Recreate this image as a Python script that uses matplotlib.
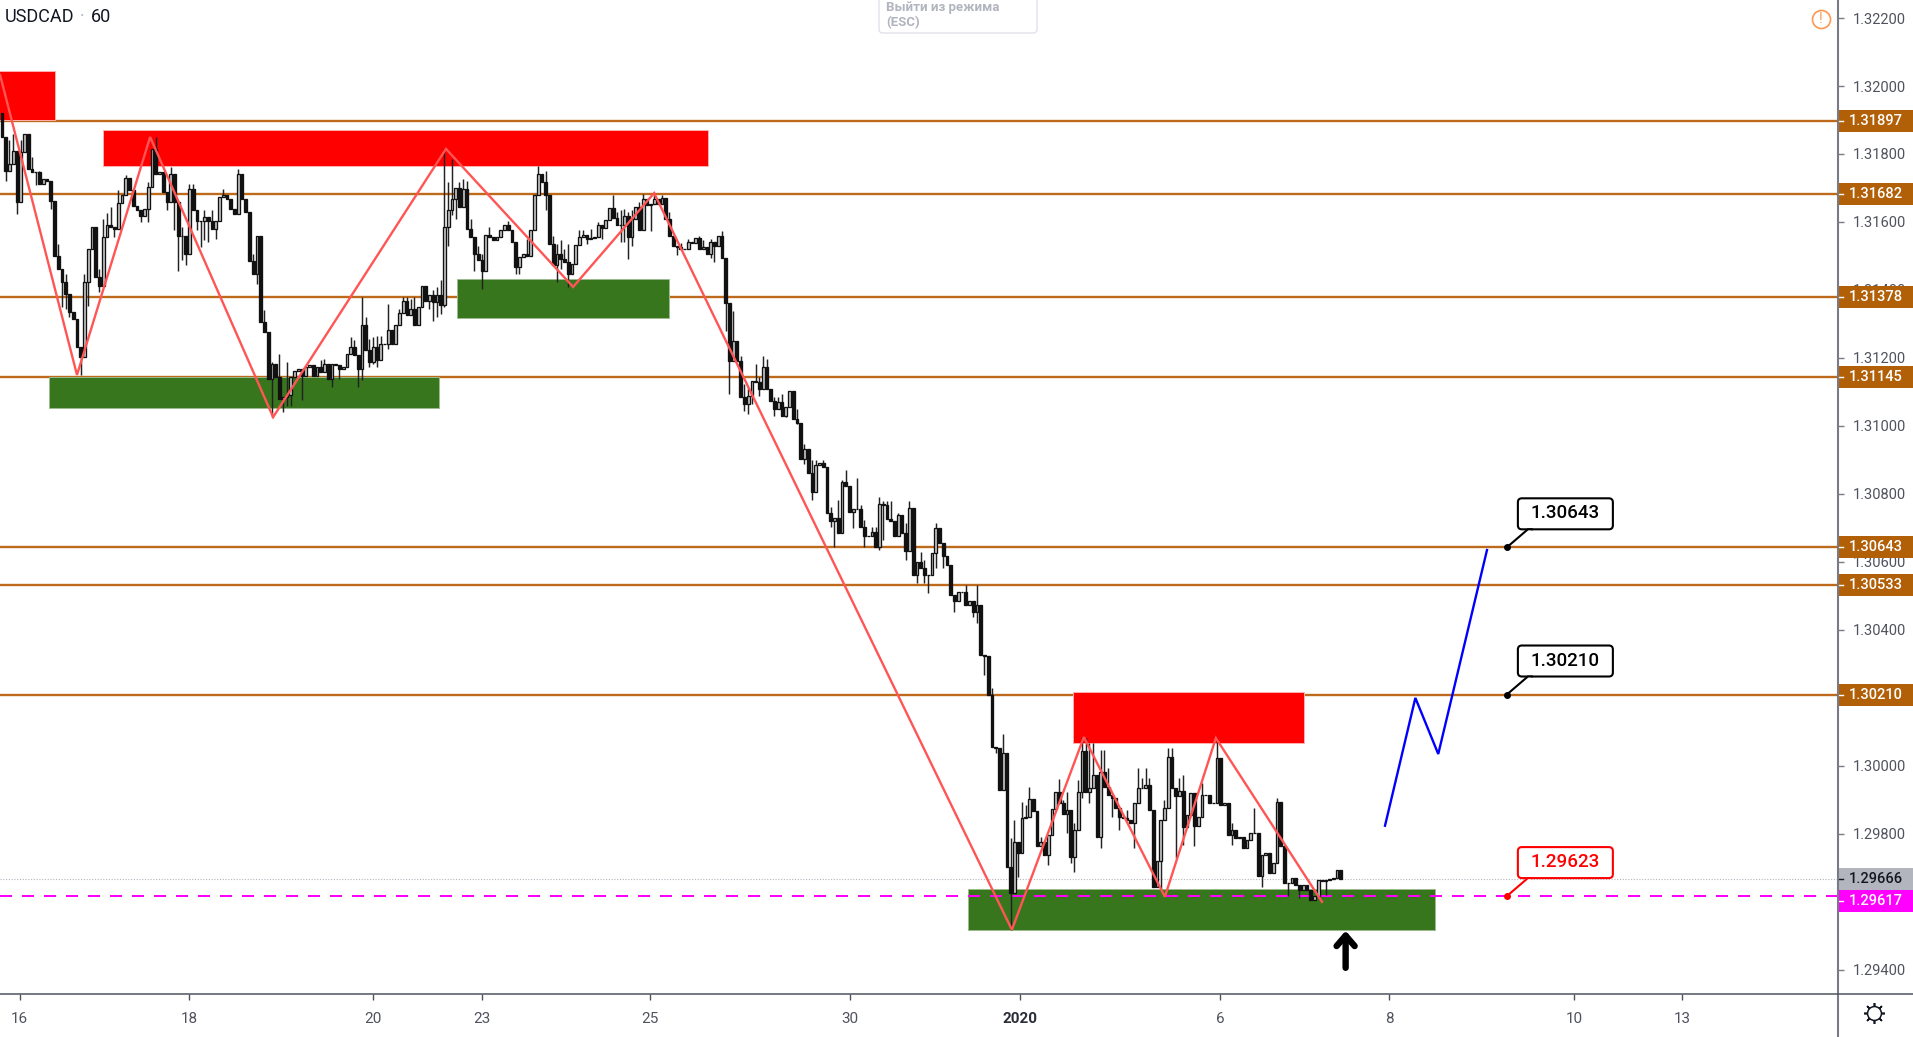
import matplotlib
matplotlib.use("Agg")
import matplotlib.pyplot as plt
from matplotlib.lines import Line2D
from matplotlib.patches import FancyBboxPatch, Polygon, Rectangle
from matplotlib.transforms import IdentityTransform

W, H = 1913, 1037
AXIS_X, AXIS_Y = 1838, 994
BAR_PX = 3.75

# hourly closes, in pips above 1.29000, ten bars per row
closes_pips = [
    285, 275, 277, 281, 266, 280.5, 286, 275.6, 274.6, 274.6,
    271.2, 272.7, 272.2, 266.3, 250.1, 246.2, 242.3, 238.9, 233.5, 231.5,
    223.2, 220.3, 242.3, 252.1, 258.5, 243.8, 241.3, 255.5, 259, 258.5,
    258, 265.5, 267.8, 273, 269.5, 264.8, 263.4, 261.9, 263.9, 270.2,
    281.5, 274.2, 274.7, 268.8, 265.8, 274.2, 265.8, 256, 256, 250.6,
    269.7, 263.4, 260.4, 260.4, 261.4, 260.4, 258, 260.4, 267.3, 267.8,
    266.8, 263.9, 262.4, 274.2, 266.8, 262.9, 248.5, 244.8, 256, 230.5,
    227.6, 213.9, 218.3, 214.4, 208, 208.5, 209, 214.4, 216.3, 216.8,
    214.8, 217.3, 217.8, 214.8, 217.3, 215.8, 218.3, 213.9, 218.3, 217.8,
    216.8, 217.3, 221.2, 223.2, 220.8, 216.8, 229.6, 222.2, 218.8, 223.2,
    219.3, 224.2, 224.2, 228.1, 224.2, 229.6, 233.2, 236.9, 232.5, 234.5,
    229.6, 235, 241.3, 236.9, 238.4, 236.4, 238.4, 235.5, 258.5, 263.4,
    266.8, 270, 264.4, 269.8, 258, 255.5, 250.6, 248.7, 245.7, 256.3,
    255.5, 254.6, 255.5, 257.7, 259, 257.7, 254.1, 246.7, 249.7, 250.6,
    249.9, 257.5, 267.8, 274.2, 271.7, 267.8, 253.6, 247.2, 250.6, 249.2,
    248.2, 244.8, 247.7, 253.1, 255.7, 256.3, 255, 255.3, 255.7, 259,
    258.2, 260.6, 264.2, 261.2, 259, 259, 261.9, 255.7, 260.9, 264.5,
    257.7, 266.8, 265.1, 265.2, 266.7, 265.2, 267.2, 260.8, 255.9, 253,
    252.7, 252, 252, 254, 253.8, 255.4, 252, 252.5, 250.7, 254,
    253, 255.9, 249.4, 236.3, 219.2, 225, 219.2, 208.4, 206.4, 208.9,
    213.3, 212.8, 210.9, 217.2, 210.9, 207.4, 205, 206.9, 203, 205.5,
    210.4, 202, 201, 190.3, 193.2, 186.1, 180.5, 188.5, 189, 188,
    174.3, 171.9, 172.9, 168.4, 183.6, 182.2, 174.8, 175.5, 175.5, 170.4,
    167.7, 167.7, 168.9, 164.3, 177.1, 176.8, 172.6, 172.1, 167.7, 173.8,
    168.4, 163.3, 175.8, 156.2, 160.1, 158.2, 156.2, 156.2, 162.6, 169.9,
    165.5, 161.6, 159.1, 150.3, 148.4, 151.3, 151.3, 147.4, 148.4, 145.4,
    147.4, 132.7, 132.2, 120.9, 105.7, 105.2, 93, 103.7, 70.4, 62.5,
    77.7, 74.3, 84.6, 85.1, 90.3, 86.8, 76.3, 77.7, 73.8, 79.7,
    87.2, 92.4, 89.2, 85.8, 87, 73.3, 81.2, 92.4, 104.5, 92.4,
    93.4, 97.3, 79, 98.3, 93.9, 91.5, 90.5, 87.5, 85.1, 84.6,
    84.1, 83.1, 89, 93.4, 93.4, 94.4, 87, 64.5, 71.9, 84.1,
    87.5, 102.7, 93.4, 91.2, 92.7, 82.1, 85.6, 92, 82.2, 85.1,
    91.5, 91.5, 89.2, 89.2, 102.3, 88.5, 89.2, 79.7, 81.2, 78.7,
    79.2, 75.8, 78.3, 80.2, 80.2, 67.5, 73.8, 74.3, 68.5, 71.4,
    89.5, 76.3, 65.5, 65.5, 67, 65, 63.6, 65, 63.6, 60.6,
    61.6, 66.5, 66, 66.5, 66.8, 67, 69.4, 66.6,
]
first_open_pips = 292

# wicks that stick out of the bodies, bar number -> pips
high_wicks = {
    2: 284, 3: 286, 5: 284, 8: 279, 10: 275, 15: 253.6, 17: 244.8, 22: 244.8, 26: 246.2,
    27: 260.9, 28: 262.6, 29: 264.4, 31: 269.5, 33: 273.7, 39: 271.7, 41: 284.9, 45: 276.1,
    48: 258.5, 50: 271.2, 51: 271.2, 54: 263.4, 56: 263.4, 59: 269.7, 63: 275.6, 67: 250.6,
    70: 234, 72: 218.8, 74: 221.2, 76: 218.8, 85: 219.3, 86: 219.8, 93: 226.1, 94: 225.2,
    96: 237.9, 97: 232, 98: 225.7, 99: 226.1, 100: 226.6, 101: 226.6, 103: 235.9, 106: 234.5,
    107: 237.9, 108: 237.9, 109: 237.4, 110: 237.9, 115: 240, 116: 240.8, 117: 242.8,
    118: 281.5, 119: 271.7, 120: 278.6, 122: 271.7, 123: 272.7, 124: 272.2, 125: 261,
    127: 253, 128: 250.6, 130: 258.5, 135: 260.4, 140: 255, 143: 276.6, 145: 275, 147: 256,
    148: 253.6, 149: 254.6, 150: 252, 151: 253.6, 154: 257.5, 155: 257.5, 157: 258, 159: 260,
    163: 267.8, 164: 262.9, 165: 263.4, 166: 263.9, 167: 262.9, 168: 263.4, 170: 265.8,
    171: 268.3, 174: 268.4, 176: 268, 177: 265.7, 178: 262.8, 181: 253.7, 183: 255, 186: 255.9,
    187: 254.7, 189: 255, 192: 257.4, 195: 233.9, 197: 220.6, 198: 212.3, 199: 211.3,
    201: 218.2, 202: 214.3, 203: 220.6, 204: 219.7, 206: 208.4, 207: 208.4, 208: 209.4,
    212: 205, 214: 194.7, 216: 190, 217: 190, 219: 190, 221: 176.3, 223: 178.2, 224: 184.1,
    225: 187.1, 228: 184.6, 229: 176.8, 230: 172.4, 232: 170.4, 233: 170.4, 234: 179,
    235: 177.8, 236: 177.8, 237: 177.8, 239: 174.3, 241: 171.4, 242: 177.8, 245: 163,
    246: 160.6, 249: 171.4, 257: 153.3, 260: 153.3, 263: 131.7, 264: 122.9, 267: 109.4,
    269: 78.7, 270: 84.1, 272: 89.5, 273: 88.5, 274: 93.9, 277: 79.2, 278: 77.7, 282: 96,
    283: 90, 284: 92.4, 286: 83.1, 287: 95.9, 288: 108.6, 289: 108.1, 290: 106.6, 291: 106.6,
    293: 104.7, 294: 104.7, 295: 99.3, 300: 87, 303: 99.3, 304: 96.4, 305: 99.3, 306: 96.4,
    310: 90, 311: 105.2, 312: 105.2, 314: 96.4, 315: 97.3, 320: 94.9, 324: 108.2, 328: 83.2,
    334: 87.6, 340: 90.5,
}
low_wicks = {
    1: 272, 4: 262.4, 9: 271, 13: 263.9, 16: 235, 17: 234.5, 18: 232, 21: 214.9, 23: 235.4,
    26: 239.4, 30: 255.7, 37: 260, 39: 260, 44: 263.4, 46: 257.5, 47: 245.7, 48: 248.7,
    49: 247.2, 52: 257.5, 53: 252.6, 54: 254.6, 55: 254.1, 57: 255, 68: 241.8, 72: 202.6,
    75: 204, 76: 206, 77: 206, 80: 207.5, 88: 211.4, 90: 213.9, 95: 211.4, 96: 213.4,
    98: 217.3, 99: 218.3, 100: 217.3, 103: 222.7, 114: 234.5, 115: 231, 116: 232, 117: 233,
    118: 235, 119: 253, 120: 262, 121: 261, 126: 245.7, 128: 240.3, 137: 244.8, 138: 244.8,
    145: 263.4, 148: 242.3, 149: 246.2, 151: 240.8, 156: 253.6, 160: 255, 165: 254, 166: 254,
    167: 249.2, 168: 253, 173: 257.4, 180: 250.3, 189: 249.4, 190: 248.3, 193: 228, 194: 209.4,
    198: 204.5, 199: 203.5, 200: 206.4, 202: 208.9, 206: 203, 209: 202.5, 212: 200.6,
    214: 188.8, 216: 178.2, 221: 170.4, 222: 164.5, 227: 169.9, 230: 164.5, 234: 163.5,
    235: 166.5, 241: 160.6, 244: 153.7, 246: 153.7, 247: 150.8, 249: 158.2, 251: 158.2,
    254: 145.4, 259: 143.9, 260: 142, 262: 126.8, 265: 103.8, 269: 51.8, 271: 67.4, 279: 70.9,
    284: 80.2, 285: 71.4, 286: 68.9, 288: 90.5, 290: 89, 293: 75.8, 296: 85.1, 298: 81.2,
    302: 75.8, 309: 63.5, 313: 72.8, 315: 76.8, 318: 76.3, 328: 76.8, 336: 64.5, 343: 61.6,
    346: 61.1, 353: 62.1,
}

# horizontal levels
level_prices = [1.31897, 1.31682, 1.31378, 1.31145, 1.30643, 1.30533, 1.30210]
support_price = 1.29617
last_price = 1.29666

# zones: first bar, last bar, low price, high price
red_zones = [(-1, 14.1, 1.31900, 1.32044), (26.9, 188.3, 1.31765, 1.31872), (285.5, 347.2, 1.30068, 1.30218)]
green_zones = [(12.5, 116.5, 1.31053, 1.31144), (121.4, 178, 1.31318, 1.31432), (257.6, 382.1, 1.29518, 1.29638)]

zigzag_bars = [-0.5, 20, 39.5, 72.3, 118.4, 152.3, 173.9, 269.3, 288.5, 310.1, 323.7, 352]
zigzag_prices = [1.32032, 1.3115, 1.3185, 1.31026, 1.31815, 1.31409, 1.31685, 1.29518, 1.30085, 1.29615, 1.30082, 1.296]
forecast_bars = [368.8, 376.9, 383, 396]
forecast_prices = [1.29824, 1.3020, 1.30035, 1.30635]

price_ticks = [1.294, 1.296, 1.298, 1.300, 1.302, 1.304, 1.306, 1.308, 1.310, 1.312, 1.314, 1.316, 1.318, 1.320, 1.322]
x_ticks = [4.7, 49.9, 99, 128, 172.8, 226.1, 271.5, 324.8, 369.9, 419.2, 448]
x_labels = ["16", "18", "20", "23", "25", "30", "2020", "6", "8", "10", "13"]

callouts = [("1.30643", 1.30643, "black"), ("1.30210", 1.30210, "black"), ("1.29623", 1.29617, "red")]
callout_bar = 401.3

plt.rcParams["font.family"] = ["Roboto", "DejaVu Sans"]

fig = plt.figure(figsize=(W / 100, H / 100), dpi=100)
ax = fig.add_axes([0, (H - AXIS_Y) / H, AXIS_X / W, AXIS_Y / H])
ax.set_xlim(-2 / BAR_PX, (AXIS_X - 2) / BAR_PX)
ax.set_ylim(1.29329, 1.32253)
for s in ax.spines.values():
    s.set_visible(False)
ax.set_axisbelow(True)

# candles
opens_pips = [first_open_pips] + closes_pips[:-1]
for i, (o, c) in enumerate(zip(opens_pips, closes_pips)):
    top = max(o, c, high_wicks.get(i, 0))
    bottom = min(o, c, low_wicks.get(i, 999))
    ax.vlines(i, 1.29 + bottom / 1e4, 1.29 + top / 1e4, color="#222222", lw=1.05, zorder=4)
    ax.bar(i, abs(c - o) / 1e4, bottom=1.29 + min(o, c) / 1e4, width=0.72,
           color="#c8c8c8" if c >= o else "#111111", edgecolor="#111111", lw=0.95, zorder=5)

for price in level_prices:
    ax.axhline(price, color="#bd6a1c", lw=1.7, zorder=2)
for x0, x1, p0, p1 in red_zones:
    ax.add_patch(Rectangle((x0, p0), x1 - x0, p1 - p0, fc="#ff0000", ec="#ffb0b0", lw=0.7, zorder=3))
for x0, x1, p0, p1 in green_zones:
    ax.add_patch(Rectangle((x0, p0), x1 - x0, p1 - p0, fc="#38761d", ec="#9dbb8e", lw=0.7, zorder=3))
ax.axhline(last_price, color="#b2b5be", lw=0.8, ls=(0, (1, 1.5)), zorder=2)
ax.axhline(support_price, color="#ff00ff", lw=1.44, ls=(0, (6, 5)), zorder=3.5)

ax.plot(zigzag_bars, zigzag_prices, color="#ff5555", lw=1.7, zorder=6, solid_joinstyle="miter")
ax.plot(forecast_bars, forecast_prices, color="#0000ff", lw=1.7, zorder=6, solid_joinstyle="miter")

ax.annotate("", xy=(358.3, 1.29515), xytext=(358.3, 1.29406), zorder=7,
            arrowprops=dict(arrowstyle="->,head_length=0.75,head_width=0.65", color="black", lw=4.6,
                            shrinkA=0, shrinkB=0, capstyle="round", joinstyle="round"))

# axes
ax.set_xticks(x_ticks)
ax.set_xticklabels(x_labels, fontsize=11, color="#50535e")
ax.get_xticklabels()[6].set_fontweight("bold")
ax.get_xticklabels()[6].set_color("#2a2e39")
ax.tick_params(axis="x", length=4, width=1, color="#50535e", pad=9)
ax.yaxis.tick_right()
ax.set_yticks(price_ticks)
ax.set_yticklabels([f"{p:.5f}" for p in price_ticks], fontsize=10.5, color="#50535e")
ax.tick_params(axis="y", length=4, width=1, color="#787b86", pad=7)

fig.add_artist(Line2D([AXIS_X / W] * 2, [0, 1], color="#787b86", lw=1.5))
fig.add_artist(Line2D([0, 1], [(H - AXIS_Y) / H] * 2, color="#50535e", lw=1.1))

# price tags on the scale
trans = ax.get_yaxis_transform()
tag_w = (W - AXIS_X) / AXIS_X
tag_h = 22 / AXIS_Y * (ax.get_ylim()[1] - ax.get_ylim()[0])
tags = [(p, p, "#b26008", "white") for p in level_prices]
tags.append((last_price, last_price, "#b2b5be", "#131722"))
tags.append((support_price, 1.29603, "#ff00ff", "white"))
for price, center, bg, fg in tags:
    ax.add_patch(Rectangle((1.0005, center - tag_h / 2), tag_w, tag_h, transform=trans, fc=bg, ec="none",
                           clip_on=False, zorder=8))
    ax.plot([1.0005, 1.0028], [center, center], transform=trans, color=fg, lw=1, clip_on=False, zorder=9)
    ax.text(1 + 11 / AXIS_X, center, f"{price:.5f}", transform=trans, color=fg, fontsize=10.5, fontweight="medium",
            va="center", ha="left", zorder=9, clip_on=False)

# callouts next to the levels, placed from their anchor point in pixels
pix = IdentityTransform()
for label, price, col in callouts:
    ax_px, ay_px = ax.transData.transform((callout_bar, price))
    ax.plot([callout_bar], [price], marker="o", ms=4, color=col, zorder=9)
    box = FancyBboxPatch((ax_px + 14, ay_px + 21), 89, 25, boxstyle="round,pad=3,rounding_size=4", transform=pix,
                         fc="white", ec=col, lw=1.5, zorder=10)
    fig.add_artist(box)
    tail = Polygon([(ax_px, ay_px), (ax_px + 21, ay_px + 18), (ax_px + 26, ay_px + 18)], closed=False, transform=pix,
                   fc="white", ec=col, lw=1.5, zorder=11)
    fig.add_artist(tail)
    fig.text((ax_px + 58) / W, (ay_px + 34) / H, label, color=col, fontsize=13.5, fontweight="medium",
             ha="center", va="center", zorder=12)

# chart header and small widgets
fig.text(5 / W, 1 - 17 / H, "USDCAD", fontsize=13, color="#131722", va="center")
fig.text(80 / W, 1 - 17 / H, "·", fontsize=13, color="#b2b5be", va="center")
fig.text(91 / W, 1 - 17 / H, "60", fontsize=13, color="#131722", va="center")

fig.add_artist(FancyBboxPatch((879, H - 33), 158, 50, boxstyle="round,pad=0,rounding_size=4", transform=pix,
                              fc="white", ec="#e0e3eb", lw=1))
fig.text(886 / W, 1 - 7 / H, "Выйти из режима", fontsize=9.5, color="#b2b5be", fontweight="bold", va="center")
fig.text(886 / W, 1 - 23 / H, "(ESC)", fontsize=9.5, color="#b2b5be", fontweight="bold", va="center")

fig.add_artist(Line2D([1821 / W], [1 - 19 / H], marker="o", ms=13, mfc="none", mec="#ff9850", mew=1.2))
fig.text(1821 / W, 1 - 19 / H, "!", fontsize=10, color="#ff9850", ha="center", va="center")

fig.add_artist(Line2D([1874 / W], [1 - 1013 / H], marker=(8, 2, 0), ms=15, color="#131722", mew=1.2))
fig.add_artist(Line2D([1874 / W], [1 - 1013 / H], marker="o", ms=10, mfc="white", mec="#131722", mew=1.1))

fig.savefig("out.png", dpi=100)
